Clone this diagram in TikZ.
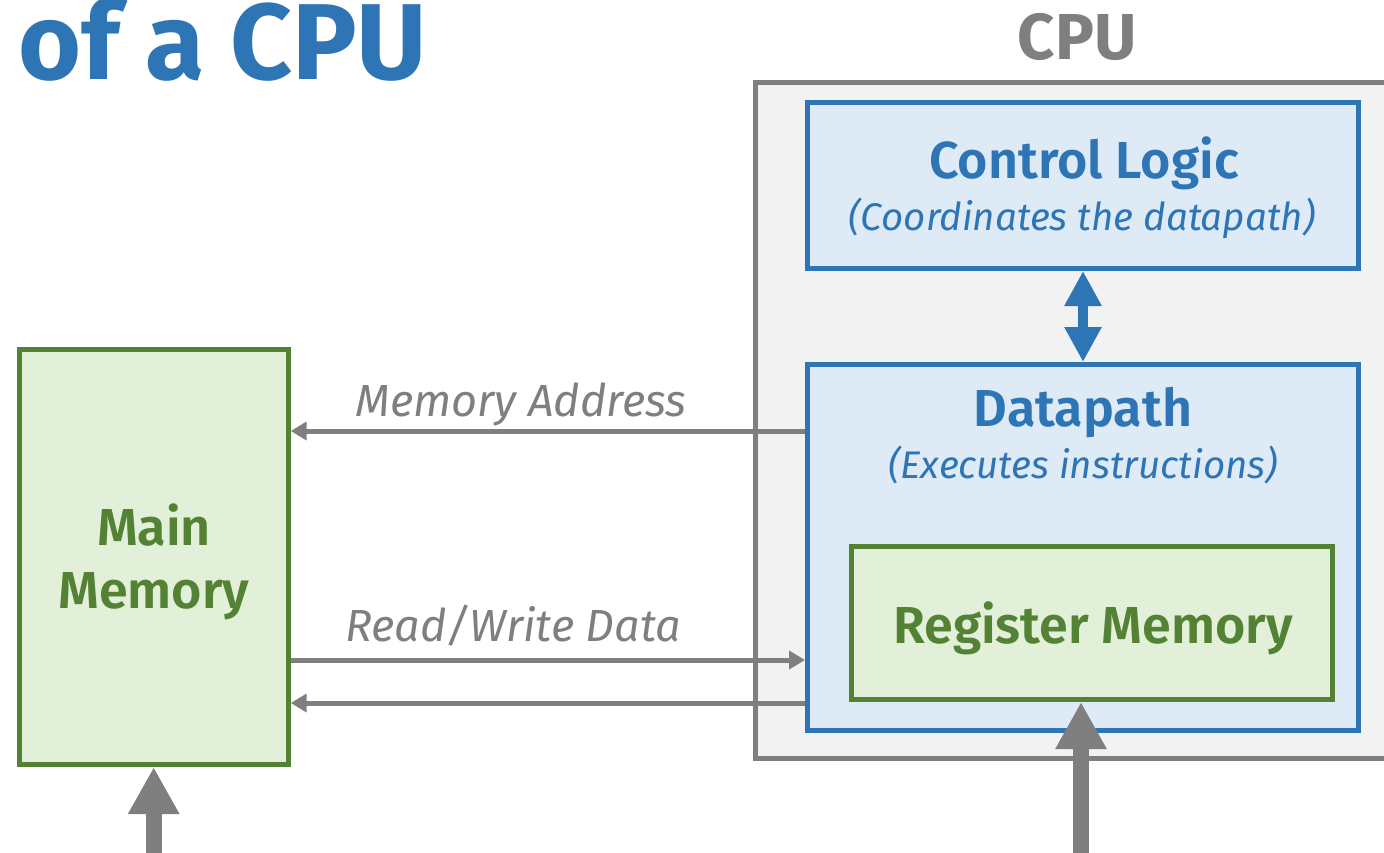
\documentclass[tikz,border=0pt]{standalone}
\usepackage{fontspec}
\setmainfont{Fira Sans}[BoldFont={* SemiBold}]
\newfontfamily\heavyfont{Fira Sans Bold}
\usetikzlibrary{arrows.meta}

\definecolor{cpublue}{HTML}{2E75B6}
\definecolor{lightblue}{HTML}{DEEBF7}
\definecolor{memgreen}{HTML}{548235}
\definecolor{lightgreen}{HTML}{E2F0D9}
\definecolor{busgray}{HTML}{7F7F7F}
\definecolor{cpufill}{HTML}{F2F2F2}

\begin{document}
\begin{tikzpicture}[x=1pt,y=-1pt,
  box/.style={draw, line width=5pt, rectangle, inner sep=0pt},
  bluebox/.style={box, draw=cpublue, fill=lightblue},
  greenbox/.style={box, draw=memgreen, fill=lightgreen},
  heading/.style={font=\fontsize{52}{58}\selectfont\bfseries, inner sep=0pt, anchor=base},
  note/.style={font=\fontsize{38.5}{46}\selectfont\itshape, inner sep=0pt, anchor=base},
  buslabel/.style={font=\fontsize{45}{52}\selectfont\itshape, text=busgray, inner sep=0pt, anchor=base},
  bus/.style={draw=busgray, line width=5pt, -{Triangle[width=18pt,length=16pt]}},
  feed/.style={draw=busgray, line width=16pt, -{Triangle[width=48pt,length=47pt]}},
  link/.style={draw=cpublue, line width=10pt,
    {Triangle[width=35pt,length=35pt]}-{Triangle[width=35pt,length=35pt]}},
]
\useasboundingbox (0,0) rectangle (1384,853);
\clip (0,0) rectangle (1384,853);

% title
\node[font=\fontsize{108}{120}\heavyfont, text=cpublue, inner sep=0pt, anchor=base west]
  (title) at (18,80) {of a CPU};

% CPU enclosure, running off the right edge
\draw[draw=busgray, fill=cpufill, line width=5pt] (755,83) rectangle (1430,758);
\node[font=\fontsize{65}{72}\heavyfont, text=busgray, inner sep=0pt, anchor=base]
  (cpulabel) at (1077,60) {CPU};

% boxes
\node[bluebox, minimum width=551pt, minimum height=166pt] (cl) at (1083,185.5) {};
\node[bluebox, minimum width=551pt, minimum height=366pt] (dp) at (1083,547.5) {};
\node[greenbox, minimum width=481pt, minimum height=153pt] (rm) at (1092,623) {};
\node[greenbox, minimum width=269pt, minimum height=415pt] (mm) at (153.7,557) {};

% box texts
\node[heading, text=cpublue] (cltitle) at (1084,179) {Control Logic};
\node[note, text=cpublue] (clnote) at (1082,231) {(Coordinates the datapath)};
\node[heading, text=cpublue] (dptitle) at (1083,426) {Datapath};
\node[note, text=cpublue] (dpnote) at (1083,478) {(Executes instructions)};
\node[heading, text=memgreen] (rmtitle) at (1093,643) {Register Memory};
\node[heading, text=memgreen] (mmtop) at (154,545) {Main};
\node[heading, text=memgreen] (mmbottom) at (154,608) {Memory};

% control <-> datapath
\draw[link] (cl.south) -- (dp.north);

% buses between CPU and main memory
\coordinate (ya) at (0,431);
\coordinate (yb) at (0,660);
\coordinate (yc) at (0,703);
\draw[bus] (dp.west |- ya) -- (mm.east |- ya);
\draw[bus] (mm.east |- yb) -- (dp.west |- yb);
\draw[bus] (dp.west |- yc) -- (mm.east |- yc);
\node[buslabel] (addrlabel) at (521,416) {Memory Address};
\node[buslabel] (datalabel) at (513,641) {Read/Write Data};

% inputs from below
\coordinate (mmfeed) at (153.7,860);
\coordinate (rmfeed) at (1081,860);
\draw[feed] (mmfeed) -- (mmfeed |- mm.south);
\draw[feed] (rmfeed) -- (rmfeed |- rm.south);
\end{tikzpicture}
\end{document}
